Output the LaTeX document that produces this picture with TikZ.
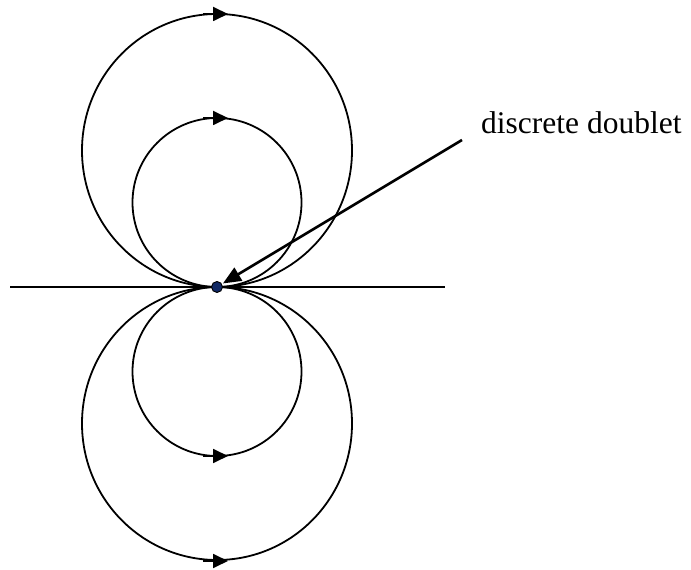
\documentclass[tikz,border=0pt]{standalone}
\usepackage{fontspec}
\setmainfont{Liberation Serif}
\usetikzlibrary{arrows.meta}
\definecolor{dotblue}{RGB}{16,40,100}
\begin{document}
\begin{tikzpicture}[x=1pt,y=1pt,
  loop/.style={line width=1.8pt},
  dirmark/.style={line width=1.8pt,-{Triangle[length=15pt,width=14pt]}},
  pointer/.style={line width=2.6pt,-{Triangle[length=18pt,width=15pt]},shorten >=1pt}]
\useasboundingbox (0,0) rectangle (691,570);
% horizontal axis
\coordinate (axl) at (10,283);
\coordinate (axr) at (445,283);
\draw[loop] (axl) -- (axr);
% circles
\draw[loop] (217,419.5) ellipse [x radius=135, y radius=136.5];
\draw[loop] (217,367.5) ellipse [x radius=84.5, y radius=84.5];
\draw[loop] (217,198.5) ellipse [x radius=84.5, y radius=84.5];
\draw[loop] (217,146.5) ellipse [x radius=135, y radius=136.5];
% direction marks
\coordinate (a1s) at (203,556); \coordinate (a1e) at (228,556);
\coordinate (a2s) at (203,452); \coordinate (a2e) at (228,452);
\coordinate (a3s) at (203,114); \coordinate (a3e) at (228,114);
\coordinate (a4s) at (203,9);  \coordinate (a4e) at (228,9);
\draw[dirmark] (a1s) -- (a1e);
\draw[dirmark] (a2s) -- (a2e);
\draw[dirmark] (a3s) -- (a3e);
\draw[dirmark] (a4s) -- (a4e);
% doublet point
\node[circle,draw=black,line width=0.9pt,fill=dotblue,inner sep=0pt,minimum size=11pt] (dot) at (217,283) {};
% label
\node[anchor=base west,inner sep=0pt,font=\fontsize{31.5}{36}\selectfont] (lbl) at (481,436) {discrete doublet};
\coordinate (tail) at (462,430);
\draw[pointer] (tail) -- (dot);
\end{tikzpicture}
\end{document}
